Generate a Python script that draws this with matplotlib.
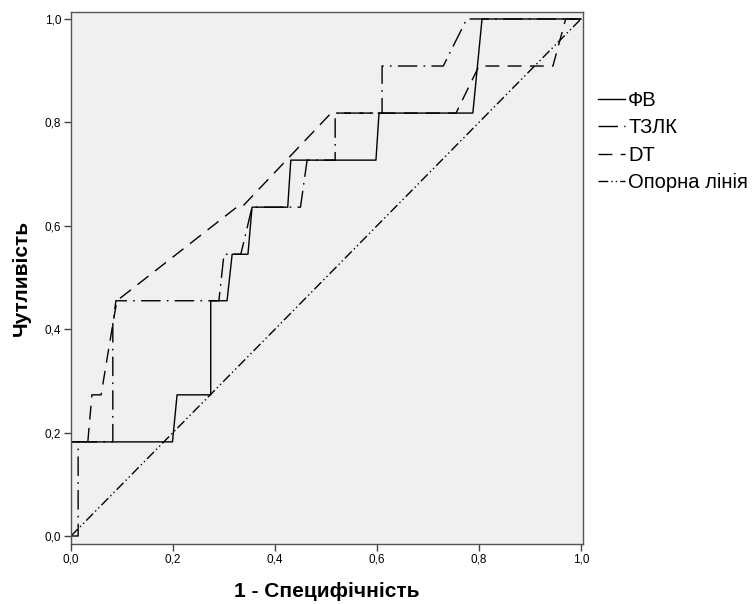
import matplotlib
matplotlib.use('Agg')
import matplotlib.pyplot as plt

plt.rcParams['font.family'] = ['Liberation Sans', 'DejaVu Sans']

# ROC curves (x = 1 - specificity, y = sensitivity)
fv_x = [0, 0, 0.199, 0.208, 0.274, 0.274, 0.306, 0.316, 0.347, 0.355, 0.425, 0.431, 0.598, 0.604, 0.788, 0.806, 1.0]
fv_y = [0, 0.182, 0.182, 0.273, 0.273, 0.455, 0.455, 0.545, 0.545, 0.636, 0.636, 0.727, 0.727, 0.818, 0.818, 1.0, 1.0]

tzlk_x = [0, 0.014, 0.014, 0.082, 0.082, 0.088, 0.29, 0.30, 0.333, 0.355, 0.45, 0.463, 0.518, 0.518, 0.61, 0.61, 0.73, 0.776, 1.0]
tzlk_y = [0, 0, 0.182, 0.182, 0.41, 0.455, 0.455, 0.545, 0.545, 0.636, 0.636, 0.727, 0.727, 0.818, 0.818, 0.909, 0.909, 1.0, 1.0]

dt_x = [0, 0, 0.033, 0.041, 0.059, 0.082, 0.09, 0.325, 0.335, 0.51, 0.755, 0.80, 0.945, 0.97, 1.0]
dt_y = [0, 0.182, 0.182, 0.273, 0.273, 0.41, 0.455, 0.636, 0.636, 0.818, 0.818, 0.909, 0.909, 1.0, 1.0]

ref_x = [0, 1]
ref_y = [0, 1]

labels = ['ФВ', 'ТЗЛК', 'DT', 'Опорна лінія']
ticks = [0, 0.2, 0.4, 0.6, 0.8, 1.0]
tick_labels = ['0,0', '0,2', '0,4', '0,6', '0,8', '1,0']

fig = plt.figure(figsize=(7.55, 6.04), dpi=100)
ax = fig.add_axes([71 / 755, 1 - 544 / 604, 512 / 755, 532 / 604])
ax.set_facecolor('#f0f0f0')

lw = 1.0
ax.plot(fv_x, fv_y, color='black', lw=lw, ls='-', label=labels[0])
ax.plot(tzlk_x, tzlk_y, color='black', lw=lw, ls=(0, (14, 4.5, 1.2, 4.5)), label=labels[1])
ax.plot(dt_x, dt_y, color='black', lw=lw, ls=(0, (10, 6)), label=labels[2])
ax.plot(ref_x, ref_y, color='black', lw=lw, ls=(0, (7, 2.2, 1, 2.2, 1, 2.2)), label=labels[3])

ax.set_xlim(0, 1.004)
ax.set_ylim(-0.0155, 1.0135)
ax.set_xticks(ticks)
ax.set_xticklabels(tick_labels)
ax.set_yticks(ticks)
ax.set_yticklabels(tick_labels)
ax.tick_params(direction='out', length=5, width=1, color='#444444', labelsize=8.5, pad=2)

for s in ax.spines.values():
    s.set_color('#555555')
    s.set_linewidth(1)

ax.set_xlabel('1 - Специфічність', fontsize=15, fontweight='bold', labelpad=12)
ax.set_ylabel('Чутливість', fontsize=15, fontweight='bold', labelpad=10)

fig.legend(loc='upper left', bbox_to_anchor=(598 / 755, 1 - 91 / 604), frameon=False,
           fontsize=14.5, handlelength=1.35, handletextpad=0.15, labelspacing=0.42,
           borderaxespad=0, borderpad=0)

fig.savefig('out.png', dpi=100)
